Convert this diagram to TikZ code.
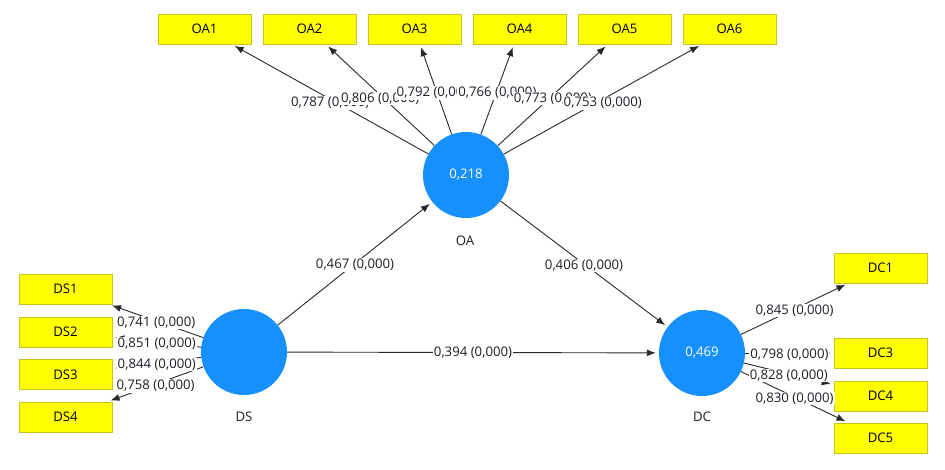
\documentclass[tikz,border=0pt]{standalone}
\usepackage{fontspec}
\setmainfont{Open Sans}
\usetikzlibrary{arrows.meta}
\definecolor{lvblue}{RGB}{22,144,255}
\definecolor{indfill}{RGB}{255,255,0}
\definecolor{indline}{RGB}{196,196,40}
\definecolor{lncol}{RGB}{40,40,40}
\definecolor{txtcol}{RGB}{30,30,40}
\begin{document}
\begin{tikzpicture}[x=1pt,y=-1pt,
  font=\fontsize{13.2}{15}\selectfont,
  lv/.style={circle, fill=lvblue, minimum size=86pt, inner sep=0pt, text=white},
  ind/.style={rectangle, fill=indfill, draw=indline, line width=0.8pt,
    minimum width=93pt, minimum height=30pt, inner sep=0pt, text=black},
  arr/.style={draw=lncol, line width=0.9pt, shorten >=3pt, -{Latex[length=9pt,width=7pt]}},
  lbl/.style={fill=white, inner sep=1pt, text=txtcol},
  lvname/.style={text=txtcol}]
\path[use as bounding box] (0,0) rectangle (945,469);

% latent variables
\node[lv] (OA) at (466,175) {0,218};
\node[lv] (DS) at (244,352) {};
\node[lv] (DC) at (702,353) {0,469};
\node[lvname] (OAc) at (465,241) {OA};
\node[lvname] (DSc) at (244,417) {DS};
\node[lvname] (DCc) at (702,417) {DC};

% indicators
\node[ind] (OA1) at (204.5,29) {OA1};
\node[ind] (OA2) at (309.5,29) {OA2};
\node[ind] (OA3) at (414.5,29) {OA3};
\node[ind] (OA4) at (519.5,29) {OA4};
\node[ind] (OA5) at (624.5,29) {OA5};
\node[ind] (OA6) at (729.5,29) {OA6};

\node[ind] (DS1) at (65.5,289) {DS1};
\node[ind] (DS2) at (65.5,332) {DS2};
\node[ind] (DS3) at (65.5,374.5) {DS3};
\node[ind] (DS4) at (65.5,417) {DS4};

\node[ind] (DC1) at (880.5,268) {DC1};
\node[ind] (DC3) at (880.5,353) {DC3};
\node[ind] (DC4) at (880.5,396) {DC4};
\node[ind] (DC5) at (880.5,438) {DC5};

% connectors
\foreach \t in {OA1,OA2,OA3,OA4,OA5,OA6} \draw[arr] (OA) -- (\t);
\foreach \t in {DS1,DS2,DS3,DS4} \draw[arr] (DS) -- (\t);
\foreach \t in {DC1,DC3,DC4,DC5} \draw[arr] (DC) -- (\t);
\draw[arr] (DS) -- (OA);
\draw[arr] (OA) -- (DC);
\draw[arr] (DS) -- (DC);

% labels
\begin{scope}[every node/.append style={yshift=-3.5pt}]
\path (OA) -- node[lbl] {0,787 (0,000)} (OA1);
\path (OA) -- node[lbl] {0,806 (0,000)} (OA2);
\path (OA) -- node[lbl] {0,792 (0,000)} (OA3);
\path (OA) -- node[lbl] {0,766 (0,000)} (OA4);
\path (OA) -- node[lbl] {0,773 (0,000)} (OA5);
\path (OA) -- node[lbl] {0,753 (0,000)} (OA6);
\end{scope}
\begin{scope}[every node/.append style={yshift=-1.5pt}]
\path (DS) -- node[lbl] {0,741 (0,000)} (DS1);
\path (DS) -- node[lbl] {0,851 (0,000)} (DS2);
\path (DS) -- node[lbl] {0,844 (0,000)} (DS3);
\path (DS) -- node[lbl] {0,758 (0,000)} (DS4);
\path (DC) -- node[lbl] {0,845 (0,000)} (DC1);
\path (DC) -- node[lbl] {0,798 (0,000)} (DC3);
\path (DC) -- node[lbl] {0,828 (0,000)} (DC4);
\path (DC) -- node[lbl] {0,830 (0,000)} (DC5);
\path (DS) -- node[lbl] {0,467 (0,000)} (OA);
\path (OA) -- node[lbl] {0,406 (0,000)} (DC);
\end{scope}
\path (DS) -- node[lbl] {0,394 (0,000)} (DC);
\end{tikzpicture}
\end{document}
